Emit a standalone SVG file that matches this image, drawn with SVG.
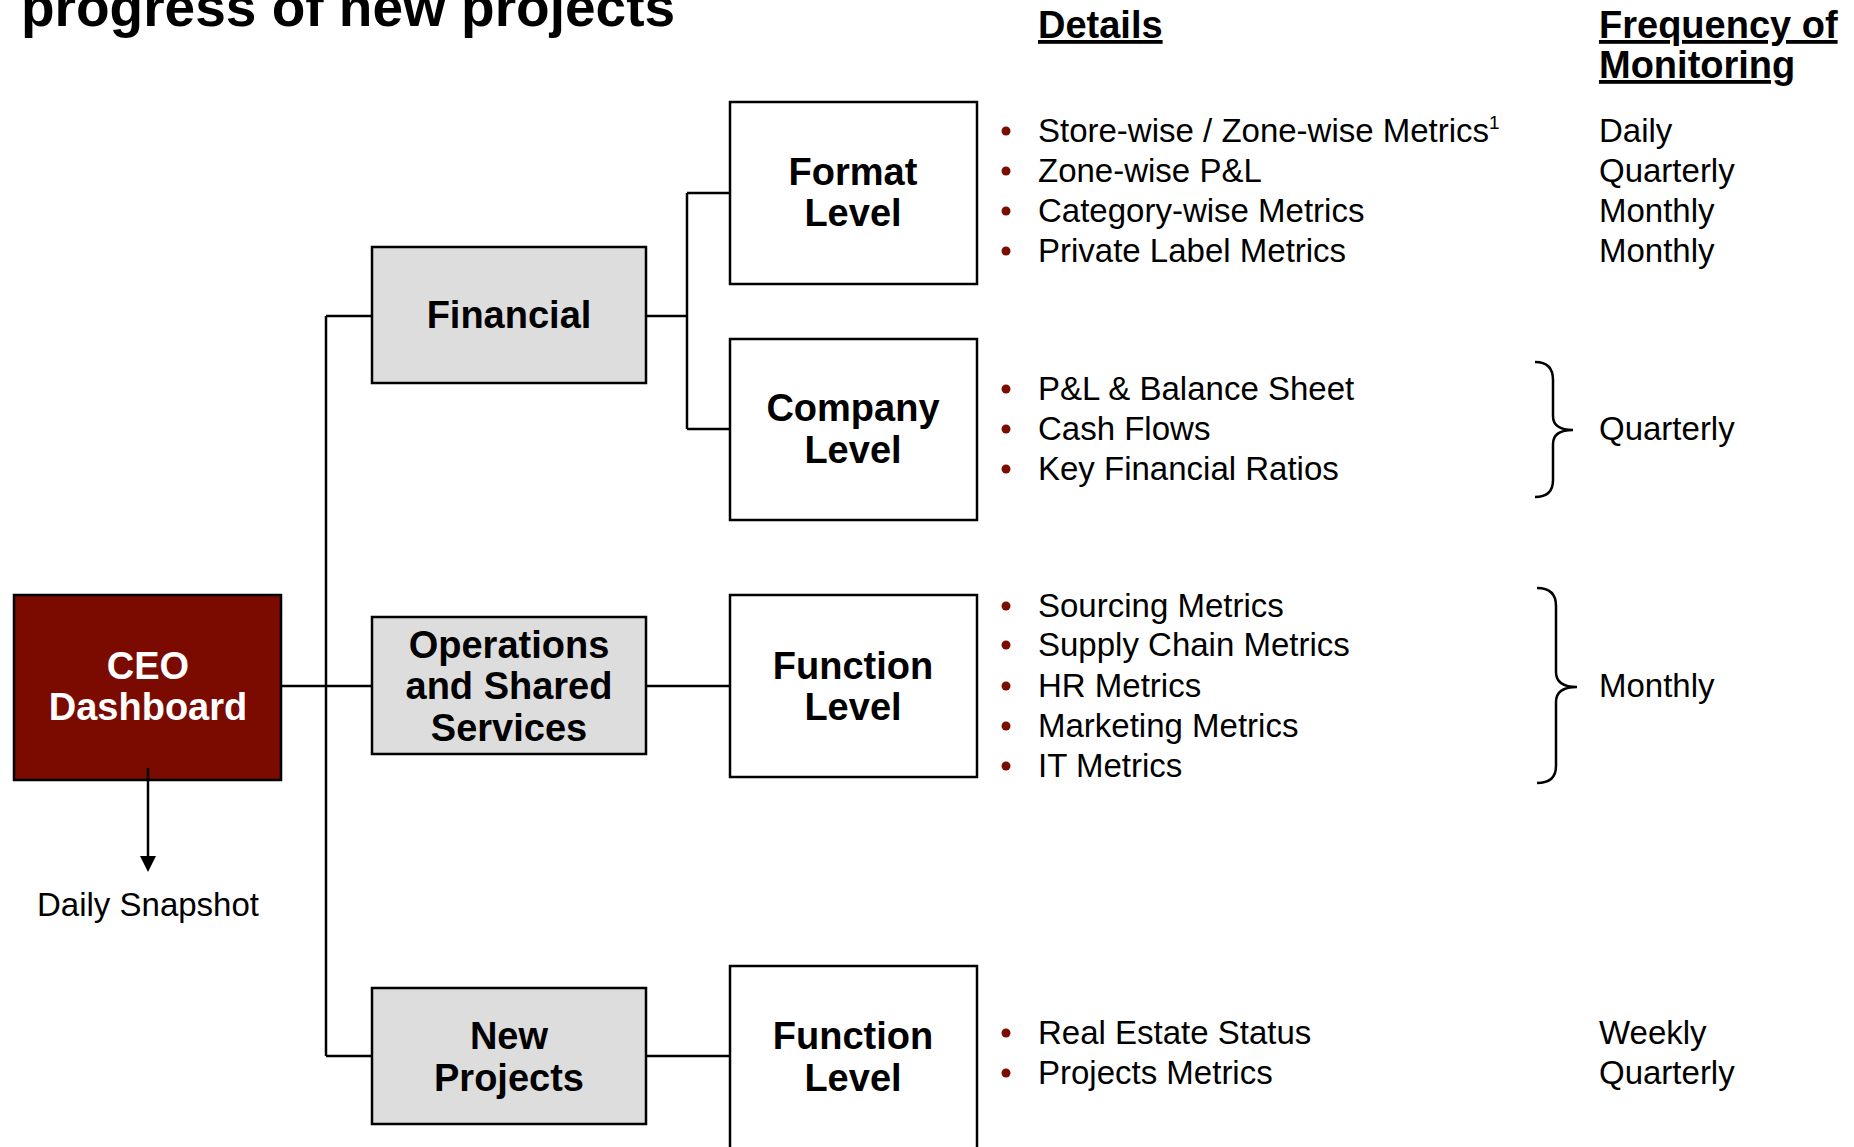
<svg xmlns="http://www.w3.org/2000/svg" width="1854" height="1147" viewBox="0 0 1854 1147">
<style>
.t{font-family:"Liberation Sans",Arial,sans-serif;fill:#000}
.b{font-weight:bold}
.box{stroke:#000;stroke-width:2.5}
.gray{fill:#DDDDDD}
.white{fill:#FFFFFF}
.lbl{font-family:"Liberation Sans",Arial,sans-serif;font-weight:bold;font-size:38px;text-anchor:middle;fill:#000}
.item{font-family:"Liberation Sans",Arial,sans-serif;font-size:33px;fill:#000}
.hdr{font-family:"Liberation Sans",Arial,sans-serif;font-weight:bold;font-size:38px;fill:#000;text-decoration:underline}
.dot{fill:#7B0C00}
.conn{fill:none;stroke:#000;stroke-width:2.5}
.brace{fill:none;stroke:#000;stroke-width:2.5}
</style>
<rect width="1854" height="1147" fill="#fff"/>
<text class="t b" x="21" y="26" font-size="55">progress of new projects</text>

<text class="hdr" x="1038" y="38">Details</text>
<text class="hdr" x="1599" y="38">Frequency of</text>
<text class="hdr" x="1599" y="78">Monitoring</text>

<g id="connectors">
<path class="conn" d="M281 686 H326"/>
<path class="conn" d="M326 316 V1056"/>
<path class="conn" d="M326 316 H372"/>
<path class="conn" d="M326 686 H372"/>
<path class="conn" d="M326 1056 H372"/>
<path class="conn" d="M646 316 H687"/>
<path class="conn" d="M687 193 V429"/>
<path class="conn" d="M687 193 H730"/>
<path class="conn" d="M687 429 H730"/>
<path class="conn" d="M646 686 H730"/>
<path class="conn" d="M646 1056 H730"/>
<path d="M148 768 V856" stroke="#000" stroke-width="2.5" fill="none"/>
<path d="M140 856 L156 856 L148 872 Z" fill="#000"/>
</g>

<g id="ceo">
<rect class="box" x="14" y="595" width="267" height="185" fill="#7B0A00"/>
<text class="lbl" x="148" y="679" style="fill:#fff">CEO</text>
<text class="lbl" x="148" y="720" style="fill:#fff">Dashboard</text>
</g>
<path d="M148 768 V780" stroke="#000" stroke-width="2.5"/>
<text class="item" x="148" y="916" text-anchor="middle">Daily Snapshot</text>

<g id="financial">
<rect class="box gray" x="372" y="247" width="274" height="136"/>
<text class="lbl" x="509" y="328">Financial</text>
</g>
<g id="operations">
<rect class="box gray" x="372" y="617" width="274" height="137"/>
<text class="lbl" x="509" y="658">Operations</text>
<text class="lbl" x="509" y="699">and Shared</text>
<text class="lbl" x="509" y="741">Services</text>
</g>
<g id="newprojects">
<rect class="box gray" x="372" y="988" width="274" height="136"/>
<text class="lbl" x="509" y="1049">New</text>
<text class="lbl" x="509" y="1091">Projects</text>
</g>

<g id="format">
<rect class="box white" x="730" y="102" width="247" height="182"/>
<text class="lbl" x="853" y="185">Format</text>
<text class="lbl" x="853" y="226">Level</text>
</g>
<g id="company">
<rect class="box white" x="730" y="339" width="247" height="181"/>
<text class="lbl" x="853" y="421">Company</text>
<text class="lbl" x="853" y="463">Level</text>
</g>
<g id="function1">
<rect class="box white" x="730" y="595" width="247" height="182"/>
<text class="lbl" x="853" y="679">Function</text>
<text class="lbl" x="853" y="720">Level</text>
</g>
<g id="function2">
<rect class="box white" x="730" y="966" width="247" height="200"/>
<text class="lbl" x="853" y="1049">Function</text>
<text class="lbl" x="853" y="1091">Level</text>
</g>

<g id="details">
<circle class="dot" cx="1006" cy="131" r="4.5"/>
<text class="item" x="1038" y="142">Store-wise / Zone-wise Metrics<tspan font-size="19" dy="-13">1</tspan></text>
<circle class="dot" cx="1006" cy="171" r="4.5"/>
<text class="item" x="1038" y="182">Zone-wise P&amp;L</text>
<circle class="dot" cx="1006" cy="211" r="4.5"/>
<text class="item" x="1038" y="222">Category-wise Metrics</text>
<circle class="dot" cx="1006" cy="251" r="4.5"/>
<text class="item" x="1038" y="262">Private Label Metrics</text>

<circle class="dot" cx="1006" cy="389" r="4.5"/>
<text class="item" x="1038" y="400">P&amp;L &amp; Balance Sheet</text>
<circle class="dot" cx="1006" cy="429" r="4.5"/>
<text class="item" x="1038" y="440">Cash Flows</text>
<circle class="dot" cx="1006" cy="469" r="4.5"/>
<text class="item" x="1038" y="480">Key Financial Ratios</text>

<circle class="dot" cx="1006" cy="606" r="4.5"/>
<text class="item" x="1038" y="617">Sourcing Metrics</text>
<circle class="dot" cx="1006" cy="645" r="4.5"/>
<text class="item" x="1038" y="656">Supply Chain Metrics</text>
<circle class="dot" cx="1006" cy="686" r="4.5"/>
<text class="item" x="1038" y="697">HR Metrics</text>
<circle class="dot" cx="1006" cy="726" r="4.5"/>
<text class="item" x="1038" y="737">Marketing Metrics</text>
<circle class="dot" cx="1006" cy="766" r="4.5"/>
<text class="item" x="1038" y="777">IT Metrics</text>

<circle class="dot" cx="1006" cy="1033" r="4.5"/>
<text class="item" x="1038" y="1044">Real Estate Status</text>
<circle class="dot" cx="1006" cy="1073" r="4.5"/>
<text class="item" x="1038" y="1084">Projects Metrics</text>
</g>

<g id="frequency">
<text class="item" x="1599" y="142">Daily</text>
<text class="item" x="1599" y="182">Quarterly</text>
<text class="item" x="1599" y="222">Monthly</text>
<text class="item" x="1599" y="262">Monthly</text>
<text class="item" x="1599" y="440">Quarterly</text>
<text class="item" x="1599" y="697">Monthly</text>
<text class="item" x="1599" y="1044">Weekly</text>
<text class="item" x="1599" y="1084">Quarterly</text>
</g>

<g id="braces">
<path class="brace" d="M1535 362 Q1553 362 1553 380 L1553 416 Q1553 430 1573 430 Q1553 430 1553 444 L1553 480 Q1553 497 1535 497"/>
<path class="brace" d="M1537 588 Q1556 588 1556 606 L1556 672 Q1556 687 1577 687 Q1556 687 1556 702 L1556 766 Q1556 783 1537 783"/>
</g>
</svg>
